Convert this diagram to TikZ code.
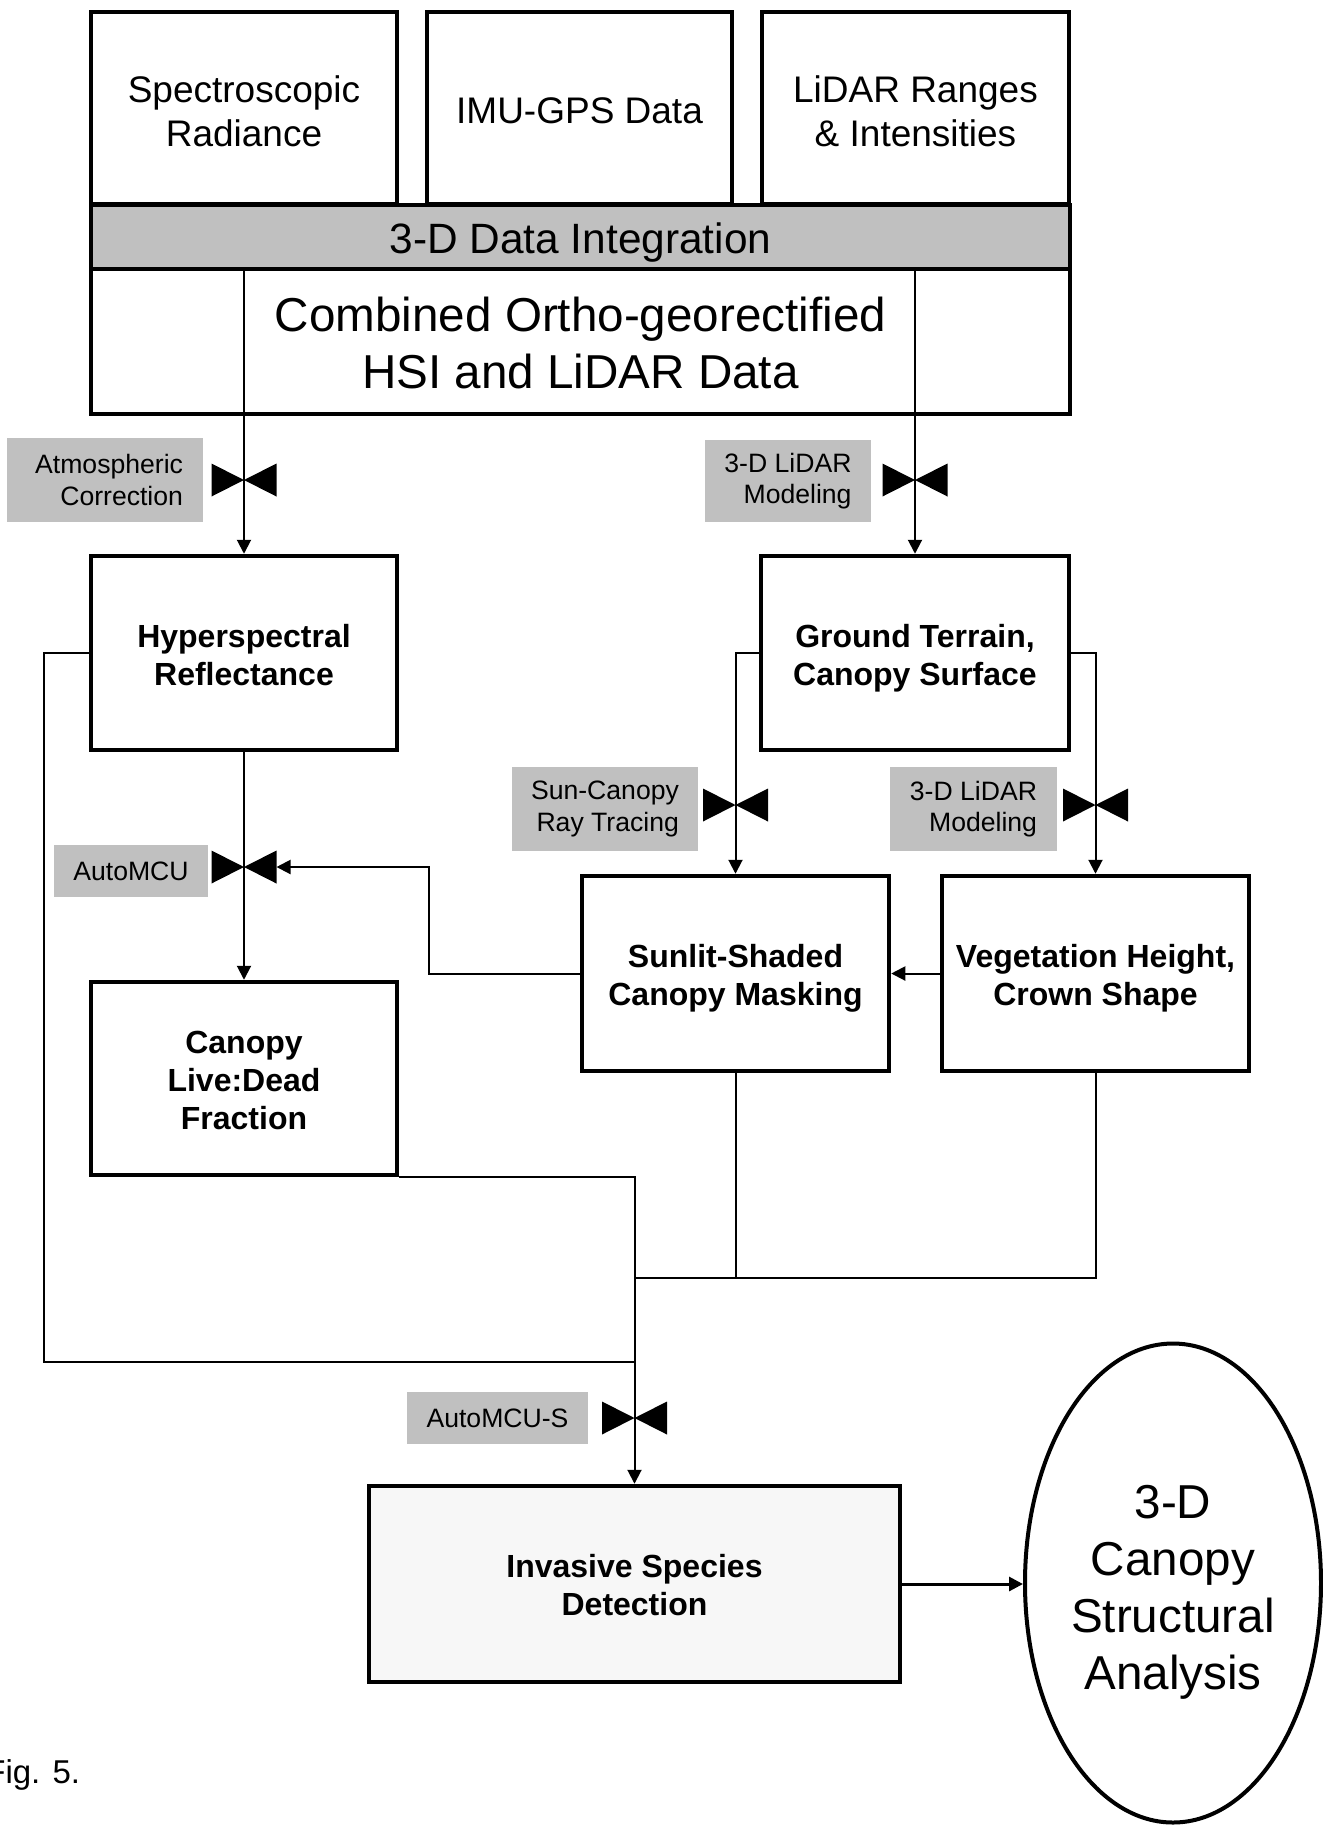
\documentclass[tikz,border=0pt]{standalone}
\usepackage{fontspec}
\setmainfont{Liberation Sans}
\usetikzlibrary{arrows.meta,shapes.geometric,calc}
\definecolor{lblgray}{HTML}{C0C0C0}
\definecolor{invfill}{HTML}{F7F7F7}
\begin{document}
\begin{tikzpicture}[x=0.5pt,y=-0.5pt,
 frame/.style={draw,line width=2.25pt,inner sep=0pt,align=center},
 topbox/.style={frame,minimum height=96pt},
 toptext/.style={inner sep=0pt,align=center,font=\fontsize{18.5pt}{22pt}\selectfont},
 proctext/.style={inner sep=0pt,align=center,font=\bfseries\fontsize{16pt}{19pt}\selectfont},
 bigtext/.style={inner sep=0pt,align=center,font=\fontsize{23.8pt}{28.5pt}\selectfont},
 glabel/.style={fill=lblgray,inner sep=0pt,align=right,font=\fontsize{13.3pt}{15.75pt}\selectfont},
 conn/.style={line width=1pt},
 arr/.style={conn,-{Triangle[length=7pt,width=7pt]}},
 bowtie/.pic={\fill (-32.5,-16.5) -- (0,0) -- (-32.5,16.5) -- cycle;
              \fill (32.5,-16.5) -- (0,0) -- (32.5,16.5) -- cycle;}
]
\useasboundingbox (0,0) rectangle (1323,1828);

% top input boxes
\node[topbox,minimum width=153pt] (spec) at (244,108) {};
\node[toptext] (spect) at ([yshift=-1.6pt]spec.center) {Spectroscopic\\Radiance};
\node[topbox,minimum width=152.5pt] (imu) at (579.5,108) {};
\node[toptext] (imut) at ([yshift=-1.6pt]imu.center) {IMU-GPS Data};
\node[topbox,minimum width=153.5pt] (lidr) at (915.5,108) {};
\node[toptext] (lidrt) at ([yshift=-1.6pt]lidr.center) {LiDAR Ranges\\\& Intensities};
\node[frame,fill=lblgray,minimum width=489.5pt,minimum height=32pt] (integ) at (580.5,237) {};
\node[inner sep=0pt,font=\fontsize{21.2pt}{25pt}\selectfont] (integt) at ([yshift=-2.9pt]integ.center) {3-D Data Integration};
\node[frame,minimum width=489.5pt,minimum height=72.5pt] (comb) at (580.5,341.5) {};
\node[bigtext] (combt) at ([yshift=-0.6pt]comb.center) {Combined Ortho-georectified\\HSI and LiDAR Data};

% process boxes
\node[frame,minimum width=153pt,minimum height=97pt] (hyper) at (244,653) {};
\node[proctext] (hypert) at ([yshift=-1.2pt]hyper.center) {Hyperspectral\\Reflectance};
\node[frame,minimum width=154pt,minimum height=97pt] (ground) at (915,653) {};
\node[proctext] (groundt) at ([yshift=-2.6pt]ground.center) {Ground Terrain,\\Canopy Surface};
\node[frame,minimum width=153pt,minimum height=96.5pt] (canopy) at (244,1078.5) {};
\node[proctext] (canopyt) at ([yshift=-1.2pt]canopy.center) {Canopy\\Live:Dead\\Fraction};
\node[frame,minimum width=153.5pt,minimum height=97.5pt] (sunlit) at (735.5,973.5) {};
\node[proctext] (sunlitt) at ([yshift=-2.3pt]sunlit.center) {Sunlit-Shaded\\Canopy Masking};
\node[frame,minimum width=153.5pt,minimum height=97.5pt] (veg) at (1095.5,973.5) {};
\node[proctext] (vegt) at ([yshift=-2.3pt]veg.center) {Vegetation Height,\\Crown Shape};
\node[frame,fill=invfill,minimum width=265.5pt,minimum height=98pt] (inv) at (634.5,1584) {};
\node[proctext] (invt) at ([yshift=-0.6pt]inv.center) {Invasive Species\\Detection};
\node[ellipse,draw,line width=2pt,inner sep=0pt,minimum width=148pt,minimum height=239.5pt] (ana) at (1173,1583) {};
\node[bigtext] (anat) at ([yshift=-4.7pt]ana.center) {3-D\\Canopy\\Structural\\Analysis};

% grey method labels
\node[glabel,minimum width=98pt,minimum height=42pt,text width=78pt] (atm) at (105,480) {Atmospheric\\Correction};
\node[glabel,minimum width=83pt,minimum height=41pt] (lm1) at (788,481) {3-D LiDAR\\Modeling};
\node[glabel,minimum width=93pt,minimum height=42pt] (sct) at (605,809) {Sun-Canopy\\Ray Tracing};
\node[glabel,minimum width=83.5pt,minimum height=42pt] (lm2) at (973.5,809) {3-D LiDAR\\Modeling};
\node[glabel,minimum width=77pt,minimum height=26pt] (amcu) at (131,871) {AutoMCU};
\node[glabel,minimum width=90.5pt,minimum height=26pt] (amcus) at (497.5,1418) {AutoMCU-S};

\node[anchor=base west,inner sep=0pt,font=\fontsize{16.5pt}{19pt}\selectfont] (fig) at (-15,1783) {Fig. 5.};

% connectors
\draw[arr] (hyper |- integ.south) -- (hyper.north);
\draw[arr] (ground |- integ.south) -- (ground.north);
\draw[arr] (hyper.south) -- (canopy.north);
\draw[arr] (ground.west) -| (sunlit.north);
\draw[arr] (ground.east) -| (veg.north);
\draw[arr] (veg.west) -- (sunlit.east);
\coordinate (bend) at (429,867);
\coordinate (v3r) at (276.5,867);
\draw[arr] (sunlit.west) -| (bend) -- (v3r);
\coordinate (lft) at (44,1362);
\coordinate (jl) at (634.5,1362);
\draw[conn] (hyper.west) -| (lft) -- (jl);
\draw[arr] (canopy.south east) -| (inv.north);
\coordinate (jm) at (634.5,1278);
\draw[conn] (veg.south) |- (jm);
\draw[conn] (sunlit.south) -- (sunlit.south |- jm);
\draw[line width=1.5pt,-{Triangle[length=7pt,width=7pt]}] (inv.east) -- (inv.east -| ana.west);

% valves
\coordinate (v1) at (244,480);
\coordinate (v2) at (915,480);
\coordinate (v3) at (244,867);
\coordinate (v4) at (735.5,805);
\coordinate (v5) at (1095.5,805);
\coordinate (v6) at (634.5,1418);
\pic at (v1) {bowtie};
\pic at (v2) {bowtie};
\pic at (v3) {bowtie};
\pic at (v4) {bowtie};
\pic at (v5) {bowtie};
\pic at (v6) {bowtie};
\end{tikzpicture}
\end{document}
